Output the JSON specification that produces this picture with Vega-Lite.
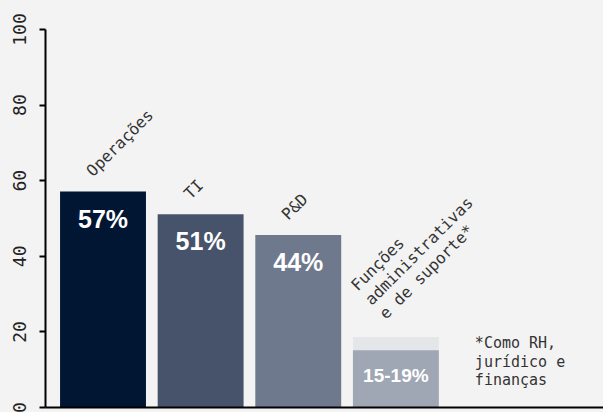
{
  "$schema": "https://vega.github.io/schema/vega-lite/v6.json",
  "width": 558,
  "height": 378,
  "padding": {"left": 45, "top": 29, "right": 0, "bottom": 5},
  "autosize": {"type": "none"},
  "background": "#f3f3f3",
  "config": {"view": {"stroke": null}},
  "data": {
    "values": [
      {"cat": "Operações", "value": 57, "label": "57%", "name": "Operações"},
      {"cat": "TI", "value": 51, "label": "51%", "name": "TI"},
      {"cat": "P&D", "value": 45.5, "label": "44%", "name": "P&D"},
      {"cat": "Funções", "value": 15, "upper": 18.5, "label": "15-19%", "name": "Funções\nadministrativas\ne de suporte*"}
    ]
  },
  "encoding": {
    "x": {
      "field": "cat",
      "type": "nominal",
      "sort": null,
      "scale": {"domain": ["Operações", "TI", "P&D", "Funções"], "paddingInner": 0.12, "paddingOuter": 0.918, "align": 0.084},
      "axis": {"title": null, "labels": false, "ticks": false, "domainColor": "#000000", "domainWidth": 2, "zindex": 1}
    }
  },
  "layer": [
    {
      "transform": [{"filter": "datum.upper != null"}],
      "mark": {"type": "bar", "color": "#e4e6e9"},
      "encoding": {
        "y": {
          "field": "upper",
          "type": "quantitative",
          "scale": {"domain": [0, 100], "nice": false},
          "axis": {
            "title": null,
            "values": [0, 20, 40, 60, 80, 100],
            "grid": false,
            "domainColor": "#000000",
            "domainWidth": 2,
            "tickColor": "#000000",
            "tickWidth": 2,
            "tickSize": 6,
            "labelAngle": 270,
            "labelAlign": "center",
            "labelBaseline": "alphabetic",
            "labelPadding": 14,
            "labelFont": "DejaVu Sans Mono",
            "labelFontSize": 18,
            "labelColor": "#222222",
            "labelOverlap": false,
            "labelFlush": false,
            "zindex": 1
          }
        }
      }
    },
    {
      "mark": {"type": "bar"},
      "encoding": {
        "y": {"field": "value", "type": "quantitative", "axis": {"title": null}},
        "color": {
          "field": "cat",
          "type": "nominal",
          "scale": {"domain": ["Operações", "TI", "P&D", "Funções"], "range": ["#011633", "#46536a", "#6e798d", "#a0a7b4"]},
          "legend": null
        }
      }
    },
    {
      "transform": [{"filter": "datum.upper == null"}],
      "mark": {"type": "text", "font": "Liberation Sans", "fontWeight": "bold", "fontSize": 25, "color": "#ffffff", "align": "center", "baseline": "alphabetic", "dy": 36},
      "encoding": {
        "y": {"field": "value", "type": "quantitative"},
        "text": {"field": "label"}
      }
    },
    {
      "transform": [{"filter": "datum.upper != null"}],
      "mark": {"type": "text", "font": "Liberation Sans", "fontWeight": "bold", "fontSize": 19, "color": "#ffffff", "align": "center", "baseline": "alphabetic", "dy": 32},
      "encoding": {
        "y": {"field": "value", "type": "quantitative"},
        "text": {"field": "label"}
      }
    },
    {
      "transform": [{"filter": "datum.upper == null"}],
      "mark": {"type": "text", "font": "DejaVu Sans Mono", "fontSize": 16, "color": "#333333", "align": "left", "baseline": "alphabetic", "angle": 315, "dx": 3, "dy": -17},
      "encoding": {
        "y": {"field": "value", "type": "quantitative"},
        "text": {"field": "name"}
      }
    },
    {
      "transform": [{"filter": "datum.upper != null"}],
      "mark": {"type": "text", "font": "DejaVu Sans Mono", "fontSize": 16, "color": "#333333", "align": "left", "baseline": "alphabetic", "angle": 315, "dx": 5, "dy": -59, "lineBreak": "\n", "lineHeight": 20},
      "encoding": {
        "y": {"field": "upper", "type": "quantitative"},
        "text": {"field": "name"}
      }
    },
    {
      "data": {"values": [{"note": "*Como RH,\njurídico e\nfinanças"}]},
      "mark": {"type": "text", "font": "DejaVu Sans Mono", "fontSize": 15, "color": "#333333", "align": "left", "baseline": "alphabetic", "dx": 79, "lineBreak": "\n", "lineHeight": 18.5},
      "encoding": {
        "x": {"datum": "Funções"},
        "y": {"datum": 15.5},
        "text": {"field": "note"}
      }
    }
  ]
}
